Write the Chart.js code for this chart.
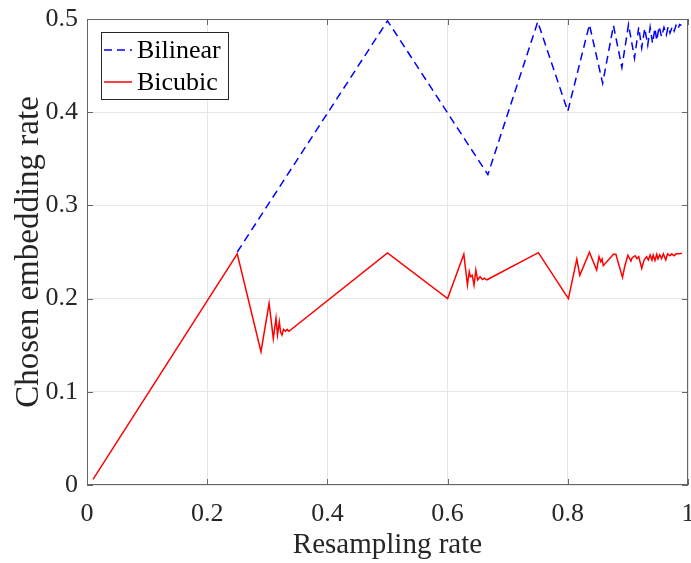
<!DOCTYPE html>
<html>
<head>
<meta charset="utf-8">
<script src="https://cdn.jsdelivr.net/npm/chart.js@4.4.1/dist/chart.umd.min.js"></script>
<style>
  html, body { margin: 0; padding: 0; background: #fff; overflow: hidden; }
  #wrap { position: relative; width: 691px; height: 563px; overflow: hidden; }
  #chart { position: absolute; left: 0; top: -10px; }
</style>
</head>
<body>
<div id="wrap"><canvas id="chart" width="712" height="573"></canvas></div>
<script>
// values (vertices of the two polylines)
const bilinearX = [0.25, 0.5, 0.667, 0.75, 0.8, 0.836, 0.858, 0.876, 0.89, 0.901, 0.911, 0.918, 0.923, 0.928, 0.933, 0.937, 0.941, 0.945, 0.948, 0.952, 0.956, 0.96, 0.964, 0.967, 0.97, 0.974, 0.977, 0.98, 0.983, 0.986, 0.989];
const bilinearY = [0.25, 0.498, 0.333, 0.497, 0.401, 0.494, 0.431, 0.493, 0.448, 0.494, 0.458, 0.491, 0.469, 0.49, 0.472, 0.491, 0.474, 0.49, 0.477, 0.492, 0.481, 0.491, 0.483, 0.492, 0.485, 0.492, 0.487, 0.493, 0.489, 0.494, 0.493];

const bicubicX = [0.01, 0.25, 0.2895, 0.303, 0.31, 0.3145, 0.317, 0.32, 0.322, 0.3245, 0.327, 0.33, 0.333, 0.336, 0.5, 0.6, 0.627, 0.633, 0.636, 0.638, 0.641, 0.644, 0.647, 0.65, 0.654, 0.658, 0.661, 0.665, 0.668, 0.751, 0.801, 0.815, 0.82, 0.836, 0.848, 0.852, 0.855, 0.857, 0.859, 0.876, 0.88, 0.891, 0.895, 0.9, 0.905, 0.907, 0.912, 0.915, 0.918, 0.923, 0.927, 0.931, 0.934, 0.937, 0.94, 0.942, 0.945, 0.948, 0.95, 0.953, 0.956, 0.959, 0.963, 0.966, 0.97, 0.973, 0.977, 0.98, 0.985, 0.99];
const bicubicY = [0.006, 0.248, 0.143, 0.195, 0.157, 0.179, 0.161, 0.175, 0.1645, 0.161, 0.167, 0.165, 0.167, 0.165, 0.249, 0.2, 0.2475, 0.2146, 0.229, 0.2235, 0.225, 0.2146, 0.2307, 0.22, 0.2235, 0.2205, 0.222, 0.22, 0.221, 0.2493, 0.2, 0.2425, 0.225, 0.2497, 0.2307, 0.245, 0.2396, 0.2425, 0.2353, 0.2475, 0.2475, 0.2228, 0.2353, 0.2465, 0.2403, 0.2439, 0.246, 0.243, 0.245, 0.2325, 0.2414, 0.245, 0.2414, 0.2468, 0.2414, 0.2468, 0.241, 0.2475, 0.2425, 0.247, 0.243, 0.248, 0.2414, 0.248, 0.246, 0.248, 0.246, 0.248, 0.248, 0.2486];

const xTicks = [0, 0.2, 0.4, 0.6, 0.8, 1];
const yTicks = [0, 0.1, 0.2, 0.3, 0.4, 0.5];

const serif = 'Liberation Serif, Times New Roman, serif';
const axisGray = '#262626';

function toPoints(xs, ys) {
    return xs.map((x, i) => ({ x: x, y: ys[i] }));
}

// box round the plot with inward ticks, like matlab
const framePlugin = {
    id: 'frame',
    afterDatasetsDraw(chart) {
        const ctx = chart.ctx;
        const a = chart.chartArea;
        const xs = chart.scales.x;
        const ys = chart.scales.y;
        const tl = 6;
        ctx.save();
        ctx.strokeStyle = '#666';
        ctx.lineWidth = 1;
        ctx.strokeRect(a.left + 0.5, a.top + 0.5, a.right - a.left - 1, a.bottom - a.top - 1);
        ctx.beginPath();
        xTicks.forEach(v => {
            const px = Math.round(xs.getPixelForValue(v)) + 0.5;
            ctx.moveTo(px, a.bottom); ctx.lineTo(px, a.bottom - tl);
            ctx.moveTo(px, a.top); ctx.lineTo(px, a.top + tl);
        });
        yTicks.forEach(v => {
            const py = Math.round(ys.getPixelForValue(v)) + 0.5;
            ctx.moveTo(a.left, py); ctx.lineTo(a.left + tl, py);
            ctx.moveTo(a.right, py); ctx.lineTo(a.right - tl, py);
        });
        ctx.stroke();
        ctx.restore();
    }
};

// legend box inside the plot, top left
const legendPlugin = {
    id: 'boxLegend',
    afterDraw(chart) {
        const ctx = chart.ctx;
        const a = chart.chartArea;
        const bx = a.left + 14, by = a.top + 13, bw = 127, bh = 67;
        ctx.save();
        ctx.fillStyle = '#fff';
        ctx.fillRect(bx, by, bw, bh);
        ctx.strokeStyle = axisGray;
        ctx.lineWidth = 1;
        ctx.strokeRect(bx + 0.5, by + 0.5, bw, bh);
        ctx.font = '26px ' + serif;
        ctx.textBaseline = 'middle';
        chart.data.datasets.forEach((ds, i) => {
            const cy = by + 18 + i * 32;
            ctx.beginPath();
            ctx.strokeStyle = ds.borderColor;
            ctx.lineWidth = ds.borderWidth;
            ctx.setLineDash(ds.borderDash || []);
            ctx.moveTo(bx + 3, cy);
            ctx.lineTo(bx + 31, cy);
            ctx.stroke();
            ctx.setLineDash([]);
            ctx.fillStyle = '#000';
            ctx.fillText(ds.label, bx + 36, cy + 1);
        });
        ctx.restore();
    }
};

new Chart(document.getElementById('chart'), {
    type: 'line',
    data: {
        datasets: [{
            label: 'Bilinear',
            data: toPoints(bilinearX, bilinearY),
            borderColor: '#0000ff',
            borderWidth: 1.5,
            borderDash: [8, 5],
            pointRadius: 0,
            tension: 0,
            order: 1
        }, {
            label: 'Bicubic',
            data: toPoints(bicubicX, bicubicY),
            borderColor: '#ff0000',
            borderWidth: 1.5,
            pointRadius: 0,
            tension: 0,
            order: 0
        }]
    },
    options: {
        responsive: false,
        animation: false,
        layout: { padding: { top: 29, right: 24, left: 0, bottom: 0 } },
        plugins: { legend: { display: false }, tooltip: { enabled: false } },
        scales: {
            x: {
                type: 'linear',
                min: 0,
                max: 1,
                afterBuildTicks: s => { s.ticks = xTicks.map(v => ({ value: v })); },
                afterFit: s => { s.height = 78; },
                grid: { color: '#e6e6e6', drawTicks: false },
                border: { display: false },
                ticks: {
                    padding: 14,
                    color: axisGray,
                    font: { family: serif, size: 26 },
                    maxRotation: 0,
                    callback: v => String(+v.toFixed(1))
                },
                title: {
                    display: true,
                    text: 'Resampling rate',
                    color: axisGray,
                    font: { family: serif, size: 29, lineHeight: 1 },
                    padding: { top: 0, bottom: 3 }
                }
            },
            y: {
                type: 'linear',
                min: 0,
                max: 0.5,
                afterBuildTicks: s => { s.ticks = yTicks.map(v => ({ value: v })); },
                afterFit: s => { s.width = 87; },
                grid: { color: '#e6e6e6', drawTicks: false },
                border: { display: false },
                ticks: {
                    padding: 9,
                    color: axisGray,
                    font: { family: serif, size: 26 },
                    callback: v => String(+v.toFixed(1))
                },
                title: {
                    display: true,
                    text: 'Chosen embedding rate',
                    color: axisGray,
                    font: { family: serif, size: 33, lineHeight: 1 },
                    padding: { top: 13, bottom: 0 }
                }
            }
        }
    },
    plugins: [framePlugin, legendPlugin]
});
</script>
</body>
</html>
